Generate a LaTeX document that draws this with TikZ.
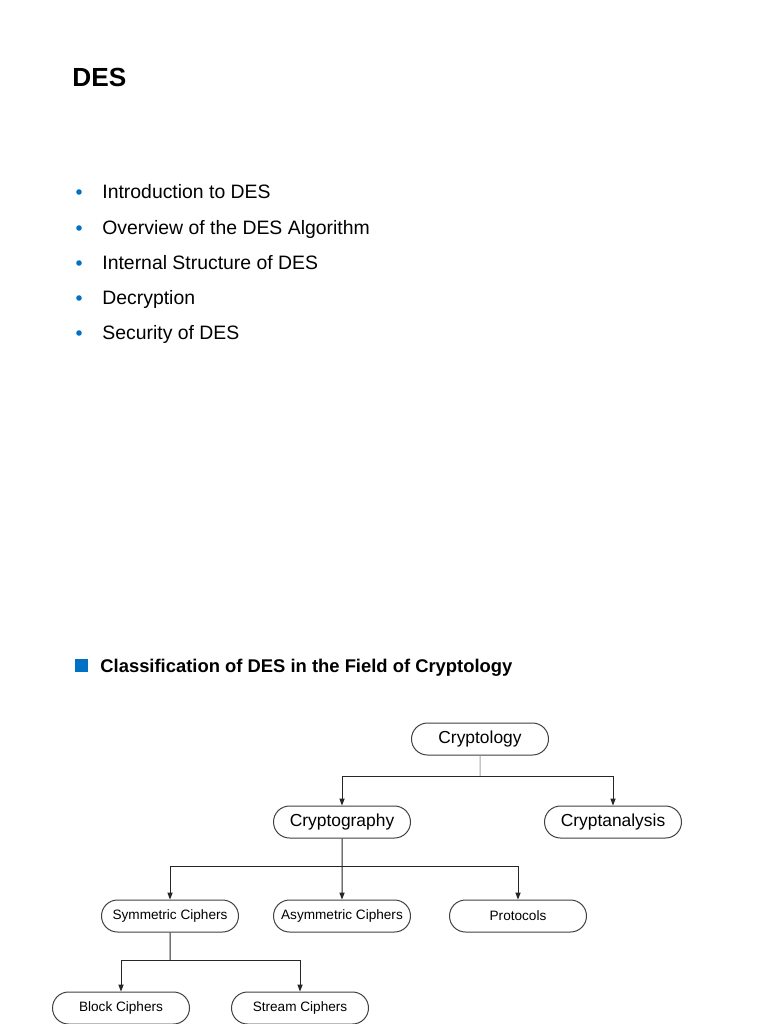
\documentclass[tikz,border=0pt]{standalone}
\usepackage{fontspec}
\setmainfont{Liberation Sans}
\usepackage{xcolor}
\usetikzlibrary{arrows.meta,positioning,shapes.misc}

\definecolor{slideblue}{RGB}{0,114,198}

\begin{document}
\begin{tikzpicture}[x=0.5pt, y=-0.5pt,
    box/.style={draw=black!75, line width=0.5pt, rounded rectangle,
      minimum width=68.5pt, minimum height=16pt, inner sep=0pt},
    bigbox/.style={box, font=\fontsize{8.7}{10}\selectfont},
    smallbox/.style={box, font=\fontsize{6.8}{8}\selectfont},
    link/.style={draw=black!85, line width=0.5pt},
    arr/.style={link, -{Triangle[length=3.5pt,width=2.6pt]}},
    item/.style={anchor=base west, inner sep=0pt, font=\fontsize{9.7}{11}\selectfont}]

  % Page
  \useasboundingbox (0,0) rectangle (768,1024);
  \clip (0,0) rectangle (768,1024);
  \fill[white] (0,0) rectangle (768,1024);

  % Title
  \node[anchor=base west, inner sep=0pt, font=\fontsize{13.1}{15}\bfseries\selectfont]
    (title) at (72,86) {DES};

  % Bullet list
  \foreach \y/\txt [count=\i] in {198/Introduction to DES,
      234/Overview of the DES Algorithm,
      269/Internal Structure of DES,
      304/Decryption,
      339/Security of DES} {
    \fill[slideblue] (79,\y-6) circle (1.4pt);
    \node[item] (item\i) at (102,\y) {\txt};
  }

  % Section heading
  \fill[slideblue] (75,659) rectangle (88,672);
  \node[anchor=base west, inner sep=0pt, font=\fontsize{9.2}{11}\bfseries\selectfont]
    (heading) at (100,672) {Classification of DES in the Field of Cryptology};

  % Tree nodes
  \node[bigbox] (cryptology) at (480,739) {Cryptology};
  \node[bigbox] (cryptography) at (342,822) {Cryptography};
  \node[bigbox] (cryptanalysis) at (613,822) {Cryptanalysis};
  \node[smallbox] (symmetric) at (170,916) {Symmetric Ciphers};
  \node[smallbox] (asymmetric) at (342,916) {Asymmetric Ciphers};
  \node[smallbox] (protocols) at (518,916) {Protocols};
  \node[smallbox] (block) at (121,1008) {Block Ciphers};
  \node[smallbox] (stream) at (300,1008) {Stream Ciphers};

  % Branch points
  \coordinate (fork1) at (480,776);
  \coordinate (fork2) at (342,866);
  \coordinate (fork3) at (170,960);

  % Connectors
  \draw[link, draw=black!35] (cryptology) -- (fork1);
  \draw[arr] (fork1) -| (cryptography);
  \draw[arr] (fork1) -| (cryptanalysis);

  \draw[link] (cryptography) -- (fork2);
  \draw[arr] (fork2) -| (symmetric);
  \draw[arr] (fork2) -- (asymmetric);
  \draw[arr] (fork2) -| (protocols);

  \draw[link] (symmetric) -- (fork3);
  \draw[arr] (fork3) -| (block);
  \draw[arr] (fork3) -| (stream);

\end{tikzpicture}
\end{document}
